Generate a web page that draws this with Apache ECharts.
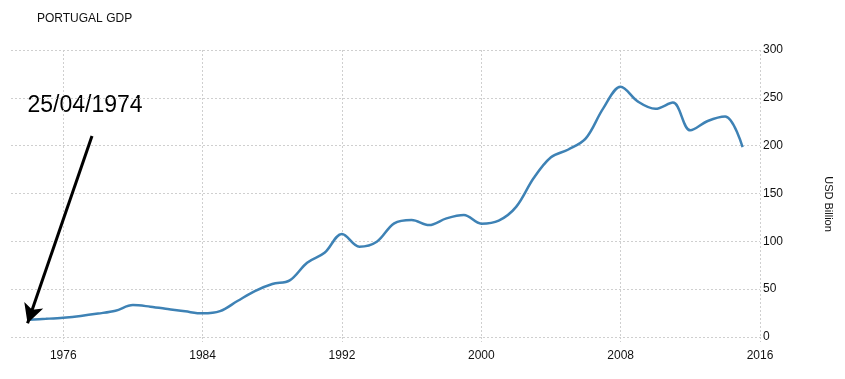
<!DOCTYPE html>
<html>
<head>
<meta charset="utf-8">
<script src="https://cdn.jsdelivr.net/npm/echarts@6/dist/echarts.min.js"></script>
<style>
html,body{margin:0;padding:0;background:#fff;}
#chart{width:845px;height:379px;}
</style>
</head>
<body>
<div id="chart"></div>
<script>
// Data (USD billion)
var years = [1974,1975,1976,1977,1978,1979,1980,1981,1982,1983,1984,1985,1986,1987,1988,1989,1990,1991,1992,1993,1994,1995,1996,1997,1998,1999,2000,2001,2002,2003,2004,2005,2006,2007,2008,2009,2010,2011,2012,2013,2014,2015];
var gdp = [18,19,20.2,22,24.5,27.5,33.4,31.7,29.3,26.8,24.7,27,37.6,48,55.4,59.2,77.7,88,107.7,94.4,99.6,118.8,122.3,117,124,127.5,118.5,121.6,136,165.9,187.8,196,207.6,239,261.6,246,238.5,245,216,225.8,230.5,198.5];
var xTicks = [1976,1984,1992,2000,2008,2016];
var yMin = 0, yMax = 300, yStep = 50;
var xMin = 1973, xMax = 2016;
var arrowFrom = [1977.65, 210];
var arrowTo = [1973.95, 14.3];
var titleText = 'PORTUGAL GDP';
var unitText = 'USD Billion';
var noteText = '25/04/1974';

var seriesData = years.map(function(y, i){ return [y, gdp[i]]; });

var chart = echarts.init(document.getElementById('chart'), null, {renderer:'canvas'});
var gridColor = '#cfcfcf';
chart.setOption({
  animation: false,
  backgroundColor: '#fff',
  textStyle: {fontFamily: 'Liberation Sans, Arial, sans-serif'},
  grid: {left: 11, right: 85, top: 50, bottom: 42, containLabel: false},
  xAxis: {
    type: 'value', min: xMin, max: xMax,
    axisLine: {show: false},
    axisTick: {show: true, length: 5, customValues: xTicks, lineStyle: {color: gridColor, type: [2,2], width: 1}},
    axisLabel: {customValues: xTicks, color: '#111', fontSize: 12, margin: 13,
      formatter: function(v){ return String(v); }},
    splitLine: {show: true, lineStyle: {color: gridColor, type: [2,2], width: 1}}
  },
  yAxis: {
    type: 'value', position: 'right', min: yMin, max: yMax, interval: yStep,
    axisLine: {show: false},
    axisTick: {show: false},
    axisLabel: {color: '#111', fontSize: 12, margin: 3},
    splitLine: {show: true, lineStyle: {color: gridColor, type: [2,2], width: 1}}
  },
  graphic: [
    {type: 'text', left: 37, top: 13, style: {text: titleText, fill: '#111', font: '12px Liberation Sans, Arial, sans-serif'}},
    {type: 'text', x: 828, y: 204, rotation: -Math.PI/2,
      style: {text: unitText, fill: '#111', font: '11px Liberation Sans, Arial, sans-serif', textAlign: 'center', textVerticalAlign: 'middle'}},
    {type: 'text', x: 85, y: 106,
      style: {text: noteText, fill: '#000', font: '23px Liberation Sans, Arial, sans-serif', textAlign: 'center', textVerticalAlign: 'middle'}}
  ],
  series: [{
    type: 'line',
    data: seriesData,
    smooth: 0.35,
    showSymbol: false,
    lineStyle: {color: '#3e82b5', width: 2.5},
    itemStyle: {color: '#3e82b5'},
    markLine: {
      silent: true,
      symbol: ['none', 'arrow'],
      symbolSize: 16,
      label: {show: false},
      lineStyle: {color: '#000', width: 3, type: 'solid'},
      emphasis: {disabled: true},
      data: [[{coord: arrowFrom}, {coord: arrowTo, symbolSize: [15, 19]}]]
    }
  }]
});
</script>
</body>
</html>
